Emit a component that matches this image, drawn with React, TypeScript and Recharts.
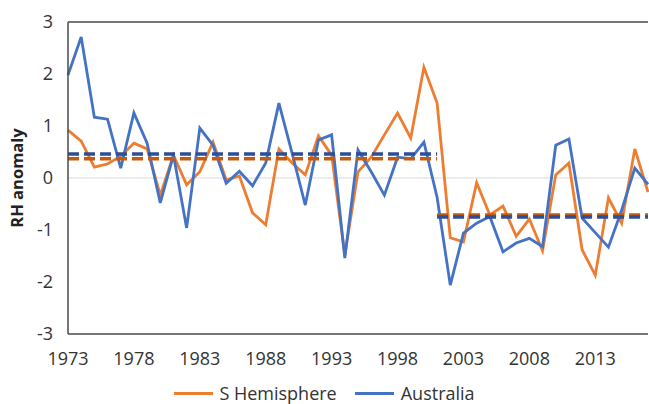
import React from "react";
import { LineChart, Line, XAxis, YAxis, ReferenceLine } from "recharts";

const years = [
  1973, 1974, 1975, 1976, 1977, 1978, 1979, 1980, 1981, 1982, 1983, 1984, 1985, 1986, 1987,
  1988, 1989, 1990, 1991, 1992, 1993, 1994, 1995, 1996, 1997, 1998, 1999, 2000, 2001, 2002,
  2003, 2004, 2005, 2006, 2007, 2008, 2009, 2010, 2011, 2012, 2013, 2014, 2015, 2016, 2017,
];

const sHemisphere = [
  0.92, 0.71, 0.21, 0.27, 0.42, 0.67, 0.56, -0.33, 0.44, -0.13, 0.12, 0.69, -0.04, 0.04, -0.67,
  -0.9, 0.56, 0.29, 0.06, 0.81, 0.44, -1.48, 0.12, 0.4, 0.83, 1.25, 0.77, 2.13, 1.44, -1.15,
  -1.23, -0.09, -0.71, -0.54, -1.12, -0.79, -1.4, 0.06, 0.29, -1.38, -1.87, -0.38, -0.87, 0.56, -0.27,
];

const australia = [
  1.98, 2.71, 1.17, 1.13, 0.19, 1.25, 0.67, -0.48, 0.44, -0.96, 0.96, 0.63, -0.1, 0.13, -0.15,
  0.29, 1.44, 0.48, -0.52, 0.73, 0.83, -1.54, 0.54, 0.12, -0.33, 0.4, 0.37, 0.69, -0.37, -2.06,
  -1.06, -0.87, -0.74, -1.42, -1.25, -1.16, -1.32, 0.63, 0.75, -0.77, -1.05, -1.33, -0.62, 0.19, -0.12,
];

// period means (dashed lines)
const period1 = { start: 1973, end: 2001, sh: 0.37, au: 0.46 };
const period2 = { start: 2001, end: 2017, sh: -0.71, au: -0.75 };

const xTicks = [1973, 1978, 1983, 1988, 1993, 1998, 2003, 2008, 2013];
const yTicks = [-3, -2, -1, 0, 1, 2, 3];

const data = years.map((year, i) => ({
  year,
  sh: sHemisphere[i],
  au: australia[i],
  sh1: year >= period1.start && year <= period1.end ? period1.sh : null,
  au1: year >= period1.start && year <= period1.end ? period1.au : null,
  sh2: year >= period2.start && year <= period2.end ? period2.sh : null,
  au2: year >= period2.start && year <= period2.end ? period2.au : null,
}));

const ORANGE = "#ED7D31";
const BLUE = "#4472C4";
const ORANGE_DARK = "#C55A11";
const BLUE_DARK = "#2F4F95";
const AXIS = "#4a4a4a";
const FONT = "'Open Sans', 'Liberation Sans', sans-serif";
const tickStyle = { fontSize: 18, fill: "#333", fontFamily: FONT };

const YTitle = (props: any) => {
  const vb = props.viewBox || { x: 0, y: 0, width: 0, height: 0 };
  const cx = 16;
  const cy = vb.y + vb.height / 2;
  return (
    <text
      x={cx}
      y={cy}
      transform={`rotate(-90 ${cx} ${cy})`}
      textAnchor="middle"
      dominantBaseline="central"
      style={{ fontSize: 16.5, fontWeight: 700, fill: "#222", fontFamily: FONT }}
    >
      RH anomaly
    </text>
  );
};

export default function App() {
  return (
    <div style={{ position: "absolute", left: 0, top: 0, width: 649, height: 404, background: "#fff" }}>
      <LineChart width={649} height={404} data={data} margin={{ top: 22, right: 1, bottom: 40, left: 0 }}>
        <ReferenceLine y={0} stroke="#D9D9D9" strokeWidth={1} />
        <ReferenceLine y={3} stroke={AXIS} strokeWidth={1.5} />
        <XAxis
          dataKey="year"
          type="number"
          domain={[1973, 2017]}
          ticks={xTicks}
          interval={0}
          tickLine={false}
          tickSize={0}
          tickMargin={18}
          axisLine={{ stroke: AXIS, strokeWidth: 1.5 }}
          tick={tickStyle}
          height={30}
        />
        <YAxis
          type="number"
          domain={[-3, 3]}
          ticks={yTicks}
          interval={0}
          tickLine={false}
          tickSize={0}
          tickMargin={15}
          axisLine={{ stroke: AXIS, strokeWidth: 1.5 }}
          tick={tickStyle}
          width={68}
          label={{ content: <YTitle /> }}
        />
        <Line dataKey="sh" stroke={ORANGE} strokeWidth={2.8} dot={false} isAnimationActive={false} />
        <Line dataKey="au" stroke={BLUE} strokeWidth={2.8} dot={false} isAnimationActive={false} />
        <Line dataKey="sh1" stroke={ORANGE_DARK} strokeWidth={3.5} strokeDasharray="11 5" dot={false} connectNulls={false} isAnimationActive={false} />
        <Line dataKey="au1" stroke={BLUE_DARK} strokeWidth={3.5} strokeDasharray="11 5" dot={false} connectNulls={false} isAnimationActive={false} />
        <Line dataKey="sh2" stroke={ORANGE_DARK} strokeWidth={3.5} strokeDasharray="11 5" dot={false} connectNulls={false} isAnimationActive={false} />
        <Line dataKey="au2" stroke={BLUE_DARK} strokeWidth={3.5} strokeDasharray="11 5" dot={false} connectNulls={false} isAnimationActive={false} />
      </LineChart>
      <div
        style={{
          position: "absolute",
          left: 0,
          top: 381,
          width: 649,
          height: 24,
          display: "flex",
          justifyContent: "center",
          alignItems: "center",
          fontFamily: FONT,
          fontSize: 18,
          color: "#333",
          lineHeight: "24px",
        }}
      >
        <span style={{ display: "inline-block", width: 39, height: 3, background: ORANGE, marginRight: 6 }} />
        <span style={{ marginRight: 18 }}>S Hemisphere</span>
        <span style={{ display: "inline-block", width: 39, height: 3, background: BLUE, marginRight: 7 }} />
        <span>Australia</span>
      </div>
    </div>
  );
}
